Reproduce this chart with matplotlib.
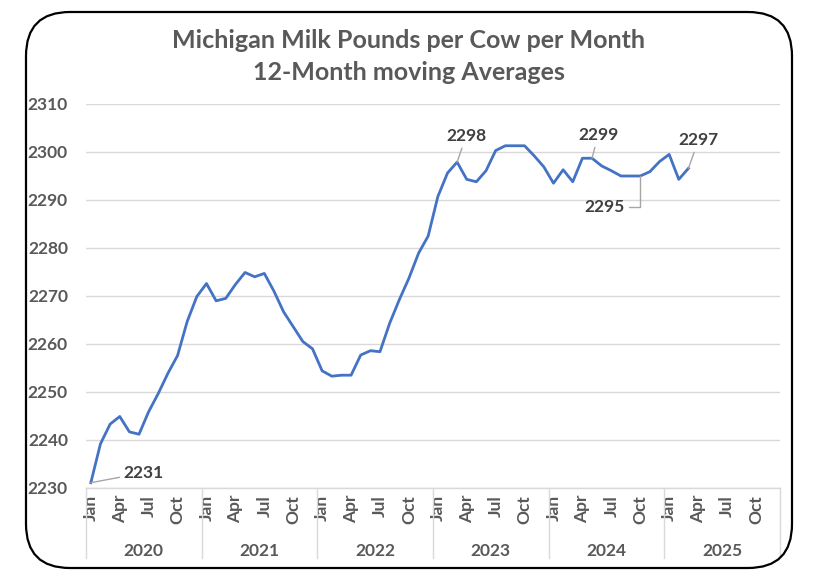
import matplotlib.pyplot as plt
import matplotlib.transforms as mtransforms
from matplotlib.patches import FancyBboxPatch

# 12-month moving average, Michigan milk lbs per cow per month (Jan 2020 - Mar 2025)
years = ["2020", "2021", "2022", "2023", "2024", "2025"]
months = ["Jan", "Feb", "Mar", "Apr", "May", "Jun",
          "Jul", "Aug", "Sep", "Oct", "Nov", "Dec"]
values = [
    2231.1, 2239.2, 2243.3, 2244.9, 2241.7, 2241.2, 2245.9, 2249.7, 2253.9, 2257.6, 2264.7, 2269.9,  # 2020
    2272.6, 2269.0, 2269.5, 2272.4, 2274.9, 2274.0, 2274.7, 2271.0, 2266.7, 2263.6, 2260.5, 2259.0,  # 2021
    2254.4, 2253.3, 2253.5, 2253.5, 2257.7, 2258.6, 2258.4, 2264.3, 2269.2, 2273.7, 2278.9, 2282.5,  # 2022
    2290.7, 2295.6, 2297.9, 2294.3, 2293.8, 2296.1, 2300.3, 2301.3, 2301.3, 2301.3, 2299.2, 2296.9,  # 2023
    2293.5, 2296.3, 2293.8, 2298.7, 2298.7, 2297.1, 2296.1, 2295.0, 2295.0, 2295.0, 2295.9, 2298.0,  # 2024
    2299.5, 2294.3, 2296.6,                                                                          # 2025
]
# (index, label, offset in px)
callouts = [
    (0, "2231", (53, 10)),
    (38, "2298", (9, 26)),
    (52, "2299", (6, 23)),
    (57, "2295", (-36, -31)),
    (62, "2297", (10, 28)),
]

FONT = "Lato"
GRAY = "#595959"
DARK = "#404040"
GRID = "#D9D9D9"
FS = 12.5

W, H = 820, 588
fig = plt.figure(figsize=(W / 100, H / 100), dpi=100)

# rounded chart border (pixel coords)
border = FancyBboxPatch((26, H - 568), 766, 556,
                        boxstyle="round,pad=0,rounding_size=44",
                        transform=mtransforms.IdentityTransform(),
                        facecolor="none", edgecolor="black", linewidth=1.6,
                        zorder=5)
fig.patches.append(border)

ax = fig.add_axes([86 / W, (H - 488) / H, (780 - 86) / W, (488 - 104) / H])
ax.patch.set_alpha(0)

n = len(years) * 12
x = list(range(len(values)))
ax.plot(x, values, color="#4472C4", linewidth=2.0, solid_joinstyle="round", zorder=3)

ax.set_xlim(-0.5, n - 0.5)
ax.set_ylim(2230, 2310)
ax.set_yticks(range(2230, 2311, 10))
ax.grid(axis="y", color=GRID, linewidth=1.0)
ax.set_axisbelow(True)
for s in ["top", "right", "left"]:
    ax.spines[s].set_visible(False)
ax.spines["bottom"].set_color(GRID)
ax.spines["bottom"].set_linewidth(1.0)

ax.tick_params(axis="y", length=0, pad=13, labelcolor=GRAY, labelsize=FS)
for lab in ax.get_yticklabels():
    lab.set_fontfamily(FONT)
    lab.set_fontweight("bold")

ticks = list(range(0, n, 3))
ax.set_xticks(ticks)
ax.set_xticklabels([months[i % 12] for i in ticks], rotation=90,
                   fontfamily=FONT, fontweight="bold", color=GRAY, fontsize=FS)
ax.tick_params(axis="x", length=0, pad=5)

# year groups below month labels
trans = mtransforms.blended_transform_factory(ax.transData, ax.transAxes)
span = 488 - 104
for k, yr in enumerate(years):
    ax.text(12 * k + 5.5, -(551 - 488) / span, yr, transform=trans,
            ha="center", va="center", fontfamily=FONT, fontweight="bold",
            color=GRAY, fontsize=FS, clip_on=False)
for k in range(len(years) + 1):
    ax.plot([12 * k - 0.5, 12 * k - 0.5], [0, -(558 - 488) / span],
            transform=trans, color=GRID, linewidth=1.0, clip_on=False)

# data callouts
for i, label, off in callouts:
    conn = "arc3"
    if label == "2295":
        conn = "angle,angleA=0,angleB=90,rad=0"
    ax.annotate(label, xy=(i, values[i]), xytext=off, textcoords="offset pixels",
                ha="center", va="center", fontfamily=FONT, fontweight="bold",
                color=DARK, fontsize=FS,
                arrowprops=dict(arrowstyle="-", color="#A6A6A6", linewidth=1.0,
                                shrinkA=1, shrinkB=0, connectionstyle=conn),
                zorder=4)

fig.text(409 / W, 1 - 40 / H, "Michigan Milk Pounds per Cow per Month",
         ha="center", va="center", fontfamily=FONT, fontweight="bold",
         color=GRAY, fontsize=18)
fig.text(409 / W, 1 - 72 / H, "12-Month moving Averages",
         ha="center", va="center", fontfamily=FONT, fontweight="bold",
         color=GRAY, fontsize=18)

fig.savefig("out.png", dpi=100)
